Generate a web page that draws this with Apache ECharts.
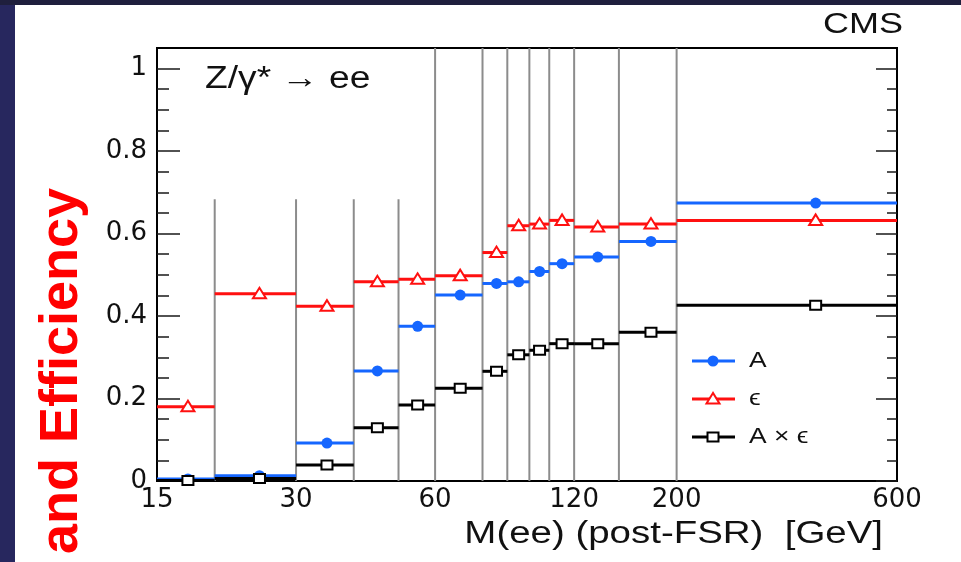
<!DOCTYPE html>
<html>
<head>
<meta charset="utf-8">
<script src="https://cdn.jsdelivr.net/npm/echarts@6/dist/echarts.min.js"></script>
<style>
  html, body { margin: 0; padding: 0; background: #ffffff; }
  #chart { width: 961px; height: 562px; }
</style>
</head>
<body>
<div id="chart"></div>
<script>
// Mass bins of the Drell-Yan measurement (GeV)
const binEdges = [15, 20, 30, 40, 50, 60, 76, 86, 96, 106, 120, 150, 200, 600];
// Mass at which each bin's marker sits (GeV)
const markerMass = [17.5, 25, 35, 45, 55, 68, 81.5, 91, 101, 113, 135, 176, 400];
// Acceptance A
const acceptance = [0.005, 0.013, 0.092, 0.267, 0.375, 0.451, 0.479, 0.483, 0.508, 0.527, 0.543, 0.581, 0.674];
// Efficiency epsilon
const efficiency = [0.180, 0.454, 0.424, 0.483, 0.489, 0.498, 0.554, 0.619, 0.623, 0.632, 0.616, 0.623, 0.632];
// Product A x epsilon
const accTimesEff = [0.001, 0.006, 0.039, 0.129, 0.184, 0.225, 0.266, 0.306, 0.317, 0.333, 0.333, 0.361, 0.426];
// Axis tick labels
const xTickLabels = [15, 30, 60, 120, 200, 600];
const yTickLabels = [0, 0.2, 0.4, 0.6, 0.8, 1];
const yMinorTicks = [0, 0.05, 0.1, 0.15, 0.2, 0.25, 0.3, 0.35, 0.4, 0.45, 0.5, 0.55, 0.6, 0.65, 0.7, 0.75, 0.8, 0.85, 0.9, 0.95, 1.0];

const BLUE = '#1566ff';
const RED = '#ff1010';
const BLACK = '#000000';
const Y_MAX = 1.05;
const lg = Math.log10;

function markerShape(kind, x, y, color) {
  if (kind === 'circle') {
    return { type: 'circle', shape: { cx: x, cy: y, r: 5.5 }, style: { fill: color } };
  }
  if (kind === 'triangle') {
    return { type: 'polygon', shape: { points: [[x, y - 6], [x - 6.5, y + 4.5], [x + 6.5, y + 4.5]] },
             style: { fill: '#ffffff', stroke: color, lineWidth: 2 } };
  }
  return { type: 'rect', shape: { x: x - 5.5, y: y - 4.5, width: 11, height: 9 },
           style: { fill: '#ffffff', stroke: color, lineWidth: 2 } };
}

function binSeries(name, values, color, marker) {
  return {
    type: 'custom',
    name: name,
    z: 5,
    data: values.map((v, i) => [lg(binEdges[i]), lg(binEdges[i + 1]), lg(markerMass[i]), v]),
    encode: { x: [0, 1, 2], y: 3 },
    renderItem: function (params, api) {
      const v = api.value(3);
      const a = api.coord([api.value(0), v]);
      const b = api.coord([api.value(1), v]);
      const m = api.coord([api.value(2), v]);
      return {
        type: 'group',
        children: [
          { type: 'line', shape: { x1: a[0], y1: a[1], x2: b[0], y2: b[1] }, style: { stroke: color, lineWidth: 3 } },
          markerShape(marker, m[0], m[1], color)
        ]
      };
    }
  };
}

// Bin boundaries: the low-mass ones stop short, the rest span the frame
const edgeSeries = {
  type: 'custom',
  z: 2,
  silent: true,
  data: binEdges.slice(1, -1).map(e => [lg(e), e]),
  encode: { x: 0 },
  renderItem: function (params, api) {
    const x = api.value(0);
    const top = api.value(1) < 60 ? 0.683 : Y_MAX;
    const p0 = api.coord([x, 0]);
    const p1 = api.coord([x, top]);
    return { type: 'line', shape: { x1: p0[0], y1: p0[1], x2: p1[0], y2: p1[1] },
             style: { stroke: '#8c8c8c', lineWidth: 2 } };
  }
};

function yAxis(position, ticks, len, withLabels) {
  return {
    type: 'value', position: position, min: 0, max: Y_MAX,
    axisLine: { show: false },
    splitLine: { show: false },
    axisTick: { show: true, inside: true, length: len, customValues: ticks,
                lineStyle: { color: '#1a1a1a', width: 1.5 } },
    axisLabel: withLabels ? {
      show: true, customValues: yTickLabels, margin: 10,
      fontFamily: 'DejaVu Sans', fontSize: 26, color: '#111',
      formatter: v => String(+v.toFixed(2))
    } : { show: false }
  };
}

function label(text, x, y, size, align, extra) {
  return Object.assign({
    type: 'text', x: x, y: y, scaleX: 1.2, z: 10,
    style: { text: text, fill: '#111', font: size + 'px "Liberation Sans", Arial, sans-serif',
             align: align, textAlign: align, verticalAlign: 'middle', textVerticalAlign: 'middle' }
  }, extra || {});
}

function legendEntry(y, color, marker, text) {
  return [
    { type: 'line', z: 10, shape: { x1: 692, y1: y, x2: 735, y2: y }, style: { stroke: color, lineWidth: 3 } },
    Object.assign(markerShape(marker, 713, y, color), { z: 11 }),
    label(text, 749, y, 22, 'left')
  ];
}

const chart = echarts.init(document.getElementById('chart'), null, { renderer: 'canvas' });
chart.setOption({
  backgroundColor: '#ffffff',
  animation: false,
  grid: { left: 157, right: 64, top: 48, bottom: 81, show: true,
          borderColor: '#000', borderWidth: 2, backgroundColor: '#fff' },
  xAxis: {
    type: 'value', min: lg(15), max: lg(600),
    axisLine: { show: false }, axisTick: { show: false }, splitLine: { show: false },
    axisLabel: { customValues: xTickLabels.map(lg), margin: 6,
                 fontFamily: 'DejaVu Sans', fontSize: 26, color: '#111',
                 formatter: v => String(Math.round(Math.pow(10, v))) }
  },
  yAxis: [
    yAxis('left', yTickLabels, 23, true),
    yAxis('left', yMinorTicks, 12, false),
    yAxis('right', yTickLabels, 21, false),
    yAxis('right', yMinorTicks, 10, false)
  ],
  series: [
    edgeSeries,
    binSeries('A', acceptance, BLUE, 'circle'),
    binSeries('\u03f5', efficiency, RED, 'triangle'),
    binSeries('A \u00d7 \u03f5', accTimesEff, BLACK, 'square')
  ],
  graphic: [
    { type: 'rect', z: 20, shape: { x: 0, y: 0, width: 961, height: 5 }, style: { fill: '#1f1f3d' } },
    { type: 'rect', z: 20, shape: { x: 0, y: 5, width: 15, height: 557 }, style: { fill: '#27275e' } },
    {
      type: 'text', x: 62, y: 188, rotation: Math.PI / 2, z: 10,
      style: { text: 'and Efficiency', fill: '#ff0000',
               font: 'bold 54px "Liberation Sans", Arial, sans-serif',
               align: 'right', textAlign: 'right', verticalAlign: 'middle', textVerticalAlign: 'middle' }
    },
    label('CMS', 823, 25, 30, 'left'),
    label('Z/\u03b3* \u2192 ee', 205, 79, 31, 'left'),
    label('M(ee) (post-FSR)  [GeV]', 883, 534, 31, 'right', { scaleX: 1.24 }),
    ...legendEntry(361, BLUE, 'circle', 'A'),
    ...legendEntry(399, RED, 'triangle', '\u03f5'),
    ...legendEntry(437, BLACK, 'square', 'A \u00d7 \u03f5')
  ]
});
</script>
</body>
</html>
